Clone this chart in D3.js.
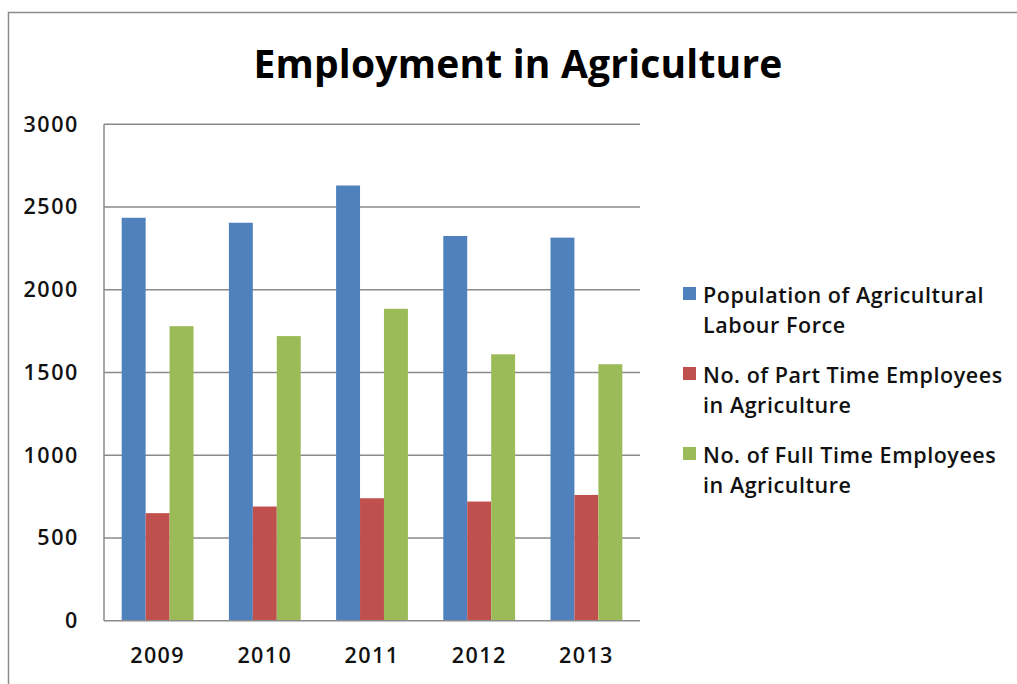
<!DOCTYPE html>
<html>
<head>
<meta charset="utf-8">
<script src="https://cdn.jsdelivr.net/npm/d3@7"></script>
<style>
  html, body { margin: 0; padding: 0; background: #fff; }
  svg { display: block; }
</style>
</head>
<body>
<svg id="chart" width="1017" height="684"></svg>
<script>
// Employment in agriculture, by year
const years = ["2009", "2010", "2011", "2012", "2013"];
const seriesNames = [
  ["Population of Agricultural", "Labour Force"],
  ["No. of Part Time Employees", "in Agriculture"],
  ["No. of Full Time Employees", "in Agriculture"]
];
const labourForce = [2435, 2405, 2630, 2325, 2315];
const partTime = [650, 690, 740, 720, 760];
const fullTime = [1780, 1720, 1885, 1610, 1550];
const yTicks = [0, 500, 1000, 1500, 2000, 2500, 3000];
const colors = ["#4F81BD", "#C0504D", "#9BBB59"];

const series = [labourForce, partTime, fullTime];
const font = "'Open Sans', 'Noto Sans', sans-serif";

const svg = d3.select("#chart");

// outer chart frame
svg.append("rect")
  .attr("x", 8.5).attr("y", 12.5)
  .attr("width", 1030).attr("height", 700)
  .attr("fill", "#fff").attr("stroke", "#8c8c8c").attr("stroke-width", 1.5);

const plot = { left: 104, right: 640, top: 124.3, bottom: 620.7 };

const x = d3.scaleBand().domain(years).range([plot.left, plot.right]).paddingInner(0.33).paddingOuter(0.165);
const xs = d3.scaleBand().domain(d3.range(series.length)).range([0, x.bandwidth()]);
const y = d3.scaleLinear().domain([0, 3000]).range([plot.bottom, plot.top]);

// horizontal gridlines
svg.append("g")
  .selectAll("line")
  .data(yTicks.filter(t => t > 0))
  .join("line")
  .attr("x1", plot.left).attr("x2", plot.right)
  .attr("y1", d => y(d)).attr("y2", d => y(d))
  .attr("stroke", "#8a8a8a").attr("stroke-width", 1.5);

// bars
const groups = svg.append("g")
  .selectAll("g")
  .data(years)
  .join("g")
  .attr("transform", d => `translate(${x(d)},0)`);

groups.selectAll("rect")
  .data((d, i) => series.map((s, k) => ({ k, v: s[i] })))
  .join("rect")
  .attr("x", d => xs(d.k))
  .attr("width", xs.bandwidth())
  .attr("y", d => y(d.v))
  .attr("height", d => y(0) - y(d.v))
  .attr("fill", d => colors[d.k]);

// axis lines
svg.append("line")
  .attr("x1", plot.left).attr("x2", plot.left)
  .attr("y1", plot.top).attr("y2", plot.bottom)
  .attr("stroke", "#8a8a8a").attr("stroke-width", 1.5);
svg.append("line")
  .attr("x1", plot.left).attr("x2", plot.right)
  .attr("y1", plot.bottom).attr("y2", plot.bottom)
  .attr("stroke", "#8a8a8a").attr("stroke-width", 1.5);

// y tick labels
const yAxis = d3.axisLeft(y).tickValues(yTicks).tickSize(0).tickPadding(25).tickFormat(d3.format("d"));
const ya = svg.append("g").attr("transform", `translate(${plot.left},0)`).call(yAxis);
ya.select(".domain").remove();
ya.selectAll("text")
  .attr("font-family", font).attr("font-size", 21.5).attr("font-weight", 600)
  .attr("letter-spacing", 1.6).attr("fill", "#111");

// x tick labels
const xAxis = d3.axisBottom(x).tickSize(0).tickPadding(27);
const xa = svg.append("g").attr("transform", `translate(0,${plot.bottom})`).call(xAxis);
xa.select(".domain").remove();
xa.selectAll("text")
  .attr("font-family", font).attr("font-size", 21.5).attr("font-weight", 600)
  .attr("letter-spacing", 1.4).attr("fill", "#111");

// title
svg.append("text")
  .attr("x", 518).attr("y", 78)
  .attr("text-anchor", "middle")
  .attr("font-family", font).attr("font-weight", 700).attr("font-size", 39)
  .attr("letter-spacing", 0.2)
  .attr("fill", "#000")
  .text("Employment in Agriculture");

// legend
const legend = svg.append("g").attr("transform", "translate(683,287)");
const item = legend.selectAll("g")
  .data(seriesNames)
  .join("g")
  .attr("transform", (d, i) => `translate(0,${i * 80})`);
item.append("rect")
  .attr("x", 0).attr("y", 0).attr("width", 13).attr("height", 13)
  .attr("fill", (d, i) => colors[i]);
item.append("text")
  .attr("x", 20).attr("y", 16)
  .attr("font-family", font).attr("font-size", 21.5).attr("font-weight", 600)
  .attr("letter-spacing", 0.55).attr("fill", "#111")
  .selectAll("tspan")
  .data(d => d)
  .join("tspan")
  .attr("x", 20)
  .attr("dy", (d, i) => i === 0 ? 0 : 30)
  .text(d => d);
</script>
</body>
</html>
